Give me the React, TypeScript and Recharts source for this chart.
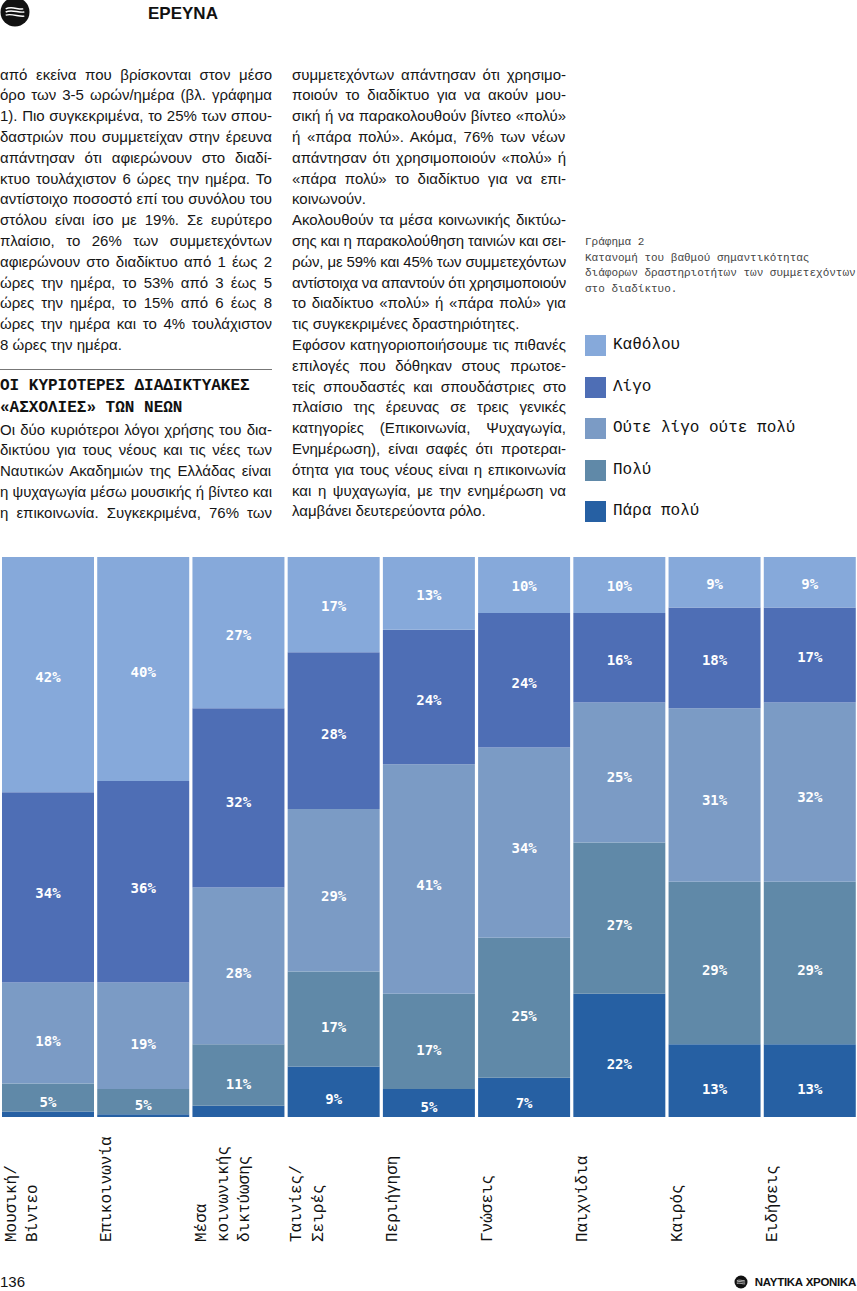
import React from 'react';
import { BarChart, Bar, XAxis, YAxis, LabelList } from 'recharts';

// ---------- DATA ----------
const categories = [
  'Μουσική/|Βίντεο',
  'Επικοινωνία',
  'Μέσα|κοινωνικής|δικτύωσης',
  'Ταινίες/|Σειρές',
  'Περιήγηση',
  'Γνώσεις',
  'Παιχνίδια',
  'Καιρός',
  'Ειδήσεις',
];
// top segment -> bottom segment (colour order of the legend)
const katholou = [42, 40, 27, 17, 13, 10, 10, 9, 9];
const ligo = [34, 36, 32, 28, 24, 24, 16, 18, 17];
const outeLigoOutePoly = [18, 19, 28, 29, 41, 34, 25, 31, 32];
const poly = [5, 4.5, 11, 17, 17, 25, 27, 29, 29];
const paraPoly = [1, 0.5, 2, 9, 5, 7, 22, 13, 13];

const legendNames = ['Καθόλου', 'Λίγο', 'Ούτε λίγο ούτε πολύ', 'Πολύ', 'Πάρα πολύ'];
const legendColors = ['#86a9da', '#4e6eb5', '#7b9bc5', '#6089a8', '#2660a3'];

const captionLines = [
  'Γράφημα 2',
  'Κατανομή του βαθμού σημαντικότητας',
  'διάφορων δραστηριοτήτων των συμμετεχόντων',
  'στο διαδίκτυο.',
];

const leftLines1 = [
  'από εκείνα που βρίσκονται στον μέσο',
  'όρο των 3-5 ωρών/ημέρα (βλ. γράφημα',
  '1). Πιο συγκεκριμένα, το 25% των σπου-',
  'δαστριών που συμμετείχαν στην έρευνα',
  'απάντησαν ότι αφιερώνουν στο διαδί-',
  'κτυο τουλάχιστον 6 ώρες την ημέρα. Το',
  'αντίστοιχο ποσοστό επί του συνόλου του',
  'στόλου είναι ίσο με 19%. Σε ευρύτερο',
  'πλαίσιο, το 26% των συμμετεχόντων',
  'αφιερώνουν στο διαδίκτυο από 1 έως 2',
  'ώρες την ημέρα, το 53% από 3 έως 5',
  'ώρες την ημέρα, το 15% από 6 έως 8',
  'ώρες την ημέρα και το 4% τουλάχιστον',
  '~8 ώρες την ημέρα.',
];
const headingLines = ['ΟΙ ΚΥΡΙΟΤΕΡΕΣ ΔΙΑΔΙΚΤΥΑΚΕΣ', '«ΑΣΧΟΛΙΕΣ» ΤΩΝ ΝΕΩΝ'];
const leftLines2 = [
  'Οι δύο κυριότεροι λόγοι χρήσης του δια-',
  'δικτύου για τους νέους και τις νέες των',
  'Ναυτικών Ακαδημιών της Ελλάδας είναι',
  'η ψυχαγωγία μέσω μουσικής ή βίντεο και',
  'η επικοινωνία. Συγκεκριμένα, 76% των',
];
const midLines = [
  'συμμετεχόντων απάντησαν ότι χρησιμο-',
  'ποιούν το διαδίκτυο για να ακούν μου-',
  'σική ή να παρακολουθούν βίντεο «πολύ»',
  'ή «πάρα πολύ». Ακόμα, 76% των νέων',
  'απάντησαν ότι χρησιμοποιούν «πολύ» ή',
  '«πάρα πολύ» το διαδίκτυο για να επι-',
  '~κοινωνούν.',
  'Ακολουθούν τα μέσα κοινωνικής δικτύω-',
  'σης και η παρακολούθηση ταινιών και σει-',
  'ρών, με 59% και 45% των συμμετεχόντων',
  'αντίστοιχα να απαντούν ότι χρησιμοποιούν',
  'το διαδίκτυο «πολύ» ή «πάρα πολύ» για',
  '~τις συγκεκριμένες δραστηριότητες.',
  'Εφόσον κατηγοριοποιήσουμε τις πιθανές',
  'επιλογές που δόθηκαν στους πρωτοε-',
  'τείς σπουδαστές και σπουδάστριες στο',
  'πλαίσιο της έρευνας σε τρεις γενικές',
  'κατηγορίες (Επικοινωνία, Ψυχαγωγία,',
  'Ενημέρωση), είναι σαφές ότι προτεραι-',
  'ότητα για τους νέους είναι η επικοινωνία',
  'και η ψυχαγωγία, με την ενημέρωση να',
  '~λαμβάνει δευτερεύοντα ρόλο.',
];

const data = categories.map((name, i) => ({
  name,
  katholou: katholou[i],
  ligo: ligo[i],
  oute: outeLigoOutePoly[i],
  poly: poly[i],
  paraPoly: paraPoly[i],
}));

// ---------- TEXT HELPERS ----------
const SANS = '"Liberation Sans", Arial, sans-serif';
const MONO = '"Liberation Mono", "DejaVu Sans Mono", monospace';
const BODY_SIZE = 15;
const LINE_H = 20.8;

let ctx: CanvasRenderingContext2D | null = null;
function measure(text: string, font: string): number {
  if (!ctx && typeof document !== 'undefined') {
    ctx = document.createElement('canvas').getContext('2d');
  }
  if (!ctx) return 0;
  ctx.font = font;
  return ctx.measureText(text).width;
}

function JustLine({ raw, x, y, w }: { raw: string; x: number; y: number; w: number }) {
  const ragged = raw.startsWith('~');
  const text = ragged ? raw.slice(1) : raw;
  const nat = measure(text, `${BODY_SIZE}px ${SANS}`);
  let wordSpacing = 0;
  let letterSpacing = 0;
  if (!ragged) {
    const spaces = (text.match(/ /g) || []).length;
    if (nat <= w && spaces > 0) wordSpacing = (w - nat) / spaces;
    else if (nat > w) letterSpacing = (w - nat) / text.length;
  }
  return (
    <div
      style={{
        position: 'absolute',
        left: x,
        top: y - LINE_H / 2,
        height: LINE_H,
        lineHeight: `${LINE_H}px`,
        whiteSpace: 'pre',
        fontFamily: SANS,
        fontSize: BODY_SIZE,
        color: '#161616',
        wordSpacing,
        letterSpacing,
      }}
    >
      {text}
    </div>
  );
}

// ---------- CHART PARTS ----------
const SegLabel = (props: any) => {
  const { x, y, width, height, value } = props;
  if (value == null || value < 4) return null;
  const cy = y + height / 2;
  const off = Math.min(1 + cy * 0.015, height * 0.15);
  return (
    <text
      x={x + width / 2}
      y={cy + off}
      fill="#ffffff"
      textAnchor="middle"
      dominantBaseline="central"
      fontFamily='"DejaVu Sans Mono", monospace'
      fontWeight="bold"
      fontSize={14}
    >
      {`${Math.round(value)}%`}
    </text>
  );
};

const CatTick = (props: any) => {
  const { x, y, payload } = props;
  const lines = String(payload.value).split('|');
  return (
    <g>
      {lines.map((ln, i) => {
        const cx = x - 36 + i * 21.5;
        const by = y + 125;
        return (
          <text
            key={i}
            transform={`translate(${cx},${by}) rotate(-90)`}
            textAnchor="start"
            dominantBaseline="central"
            fontFamily={MONO}
            fontSize={16}
            fill="#111"
          >
            {ln}
          </text>
        );
      })}
    </g>
  );
};

function Logo({ cx, cy, r }: { cx: number; cy: number; r: number }) {
  const s = r / 14;
  return (
    <g transform={`translate(${cx},${cy}) scale(${s})`}>
      <circle r={14} fill="#111" />
      <path d="M-9,-3 C-3,-6 3,-2 8,-3" stroke="#fff" strokeWidth={1.4} fill="none" />
      <path d="M-9,0 C-3,-3 3,1 9,0" stroke="#fff" strokeWidth={1.4} fill="none" />
      <path d="M-9,3 C-3,1 4,5 9,4" stroke="#fff" strokeWidth={1.4} fill="none" />
    </g>
  );
}

export default function App() {
  return (
    <div
      style={{
        position: 'absolute',
        left: 0,
        top: 0,
        width: 857,
        height: 1291,
        background: '#ffffff',
        overflow: 'hidden',
      }}
    >
      {/* header */}
      <svg style={{ position: 'absolute', left: 0, top: 0 }} width={40} height={30}>
        <Logo cx={15} cy={12} r={14.5} />
      </svg>
      <div
        style={{
          position: 'absolute',
          left: 148,
          top: 3,
          fontFamily: SANS,
          fontWeight: 'bold',
          fontSize: 17,
          lineHeight: '22px',
          color: '#111',
        }}
      >
        ΕΡΕΥΝΑ
      </div>

      {/* left column */}
      {leftLines1.map((t, i) => (
        <JustLine key={'a' + i} raw={t} x={0} y={75 + i * LINE_H} w={272} />
      ))}
      <div style={{ position: 'absolute', left: 0, top: 369, width: 272, height: 1, background: '#777' }} />
      {headingLines.map((t, i) => (
        <div
          key={'h' + i}
          style={{
            position: 'absolute',
            left: 0,
            top: 375 + i * 22,
            lineHeight: '22px',
            whiteSpace: 'pre',
            fontFamily: MONO,
            fontWeight: 'bold',
            fontSize: 16,
            color: '#111',
          }}
        >
          {t}
        </div>
      ))}
      {leftLines2.map((t, i) => (
        <JustLine key={'b' + i} raw={t} x={0} y={430 + i * LINE_H} w={272} />
      ))}

      {/* middle column */}
      {midLines.map((t, i) => (
        <JustLine key={'m' + i} raw={t} x={292} y={75 + i * LINE_H} w={274} />
      ))}

      {/* caption */}
      {captionLines.map((t, i) => (
        <div
          key={'c' + i}
          style={{
            position: 'absolute',
            left: 585,
            top: 235 + i * 15.5,
            lineHeight: '15px',
            whiteSpace: 'pre',
            fontFamily: MONO,
            fontSize: 11,
            color: '#444',
          }}
        >
          {t}
        </div>
      ))}

      {/* legend */}
      {legendNames.map((n, i) => (
        <div key={'l' + i} style={{ position: 'absolute', left: 585, top: 335 + i * 41.5, height: 22 }}>
          <div style={{ position: 'absolute', left: 0, top: 0, width: 21, height: 21, background: legendColors[i] }} />
          <div
            style={{
              position: 'absolute',
              left: 28,
              top: -1,
              lineHeight: '22px',
              whiteSpace: 'pre',
              fontFamily: MONO,
              fontSize: 16,
              color: '#111',
            }}
          >
            {n}
          </div>
        </div>
      ))}

      {/* chart */}
      <div style={{ position: 'absolute', left: 0, top: 557 }}>
        <BarChart
          width={857}
          height={700}
          data={data}
          margin={{ top: 0, right: 0, bottom: 0, left: 0 }}
          barSize={92}
        >
          <YAxis hide domain={[0, 100]} />
          <XAxis
            dataKey="name"
            height={140}
            interval={0}
            tickLine={false}
            axisLine={false}
            tickSize={0}
            tickMargin={0}
            tick={<CatTick />}
          />
          <Bar dataKey="paraPoly" stackId="s" fill={legendColors[4]} isAnimationActive={false}>
            <LabelList dataKey="paraPoly" content={<SegLabel />} />
          </Bar>
          <Bar dataKey="poly" stackId="s" fill={legendColors[3]} isAnimationActive={false}>
            <LabelList dataKey="poly" content={<SegLabel />} />
          </Bar>
          <Bar dataKey="oute" stackId="s" fill={legendColors[2]} isAnimationActive={false}>
            <LabelList dataKey="oute" content={<SegLabel />} />
          </Bar>
          <Bar dataKey="ligo" stackId="s" fill={legendColors[1]} isAnimationActive={false}>
            <LabelList dataKey="ligo" content={<SegLabel />} />
          </Bar>
          <Bar dataKey="katholou" stackId="s" fill={legendColors[0]} isAnimationActive={false}>
            <LabelList dataKey="katholou" content={<SegLabel />} />
          </Bar>
        </BarChart>
      </div>

      {/* footer */}
      <div
        style={{
          position: 'absolute',
          left: 0,
          top: 1272,
          lineHeight: '20px',
          fontFamily: SANS,
          fontSize: 15,
          color: '#111',
        }}
      >
        136
      </div>
      <svg style={{ position: 'absolute', left: 733, top: 1274 }} width={16} height={16}>
        <Logo cx={8} cy={8} r={6.5} />
      </svg>
      <div
        style={{
          position: 'absolute',
          right: 1,
          top: 1273,
          lineHeight: '18px',
          fontFamily: SANS,
          fontWeight: 'bold',
          fontSize: 11.5,
          letterSpacing: -0.3,
          color: '#111',
          whiteSpace: 'pre',
        }}
      >
        ΝΑΥΤΙΚΑ ΧΡΟΝΙΚΑ
      </div>
    </div>
  );
}
